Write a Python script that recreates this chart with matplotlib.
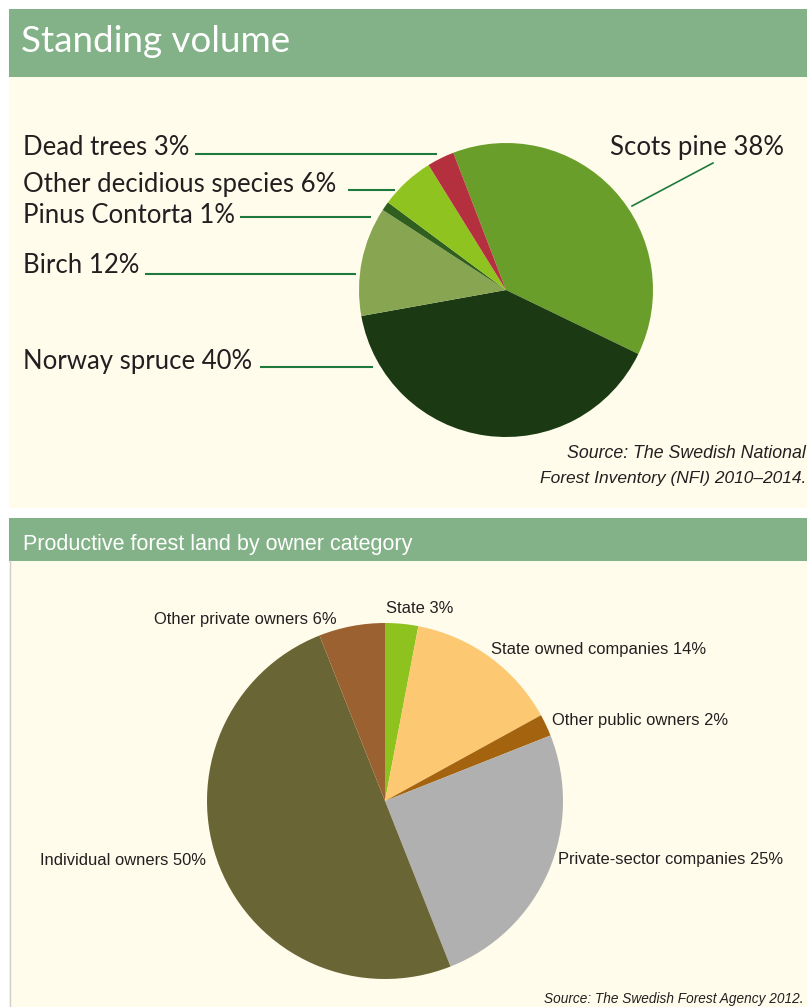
import matplotlib
matplotlib.use("Agg")
import matplotlib.pyplot as plt
from matplotlib.patches import Rectangle

# ---------------- data ----------------
species = ["Scots pine", "Norway spruce", "Birch", "Pinus Contorta",
           "Other decidious species", "Dead trees"]
species_pct = [38, 40, 12, 1, 6, 3]
species_colors = ["#6a9e2a", "#1b3a14", "#88a552", "#2f5e1e", "#8fc31f", "#b5303e"]

owners = ["State", "State owned companies", "Other public owners",
          "Private-sector companies", "Individual owners", "Other private owners"]
owners_pct = [3, 14, 2, 25, 50, 6]
owners_colors = ["#8dc21f", "#fdc872", "#a4630f", "#b0b0b0", "#6a6534", "#9c6130"]

title_top = "Standing volume"
title_bottom = "Productive forest land by owner category"
source_top = ["Source: The Swedish National", "Forest Inventory (NFI) 2010\u20132014."]
source_bottom = "Source: The Swedish Forest Agency 2012."

# ---------------- layout ----------------
W, H = 807, 1007
GREEN = "#84b288"
CREAM = "#fffcec"
LINE = "#1e7a3c"
TXT = "#231f20"
REG = ["Lato", "DejaVu Sans"]
NARROW = ["Liberation Sans", "DejaVu Sans"]

fig = plt.figure(figsize=(W / 100, H / 100), dpi=100)
fig.patch.set_facecolor("white")
bg = fig.add_axes([0, 0, 1, 1])
bg.set_xlim(0, W)
bg.set_ylim(H, 0)
bg.axis("off")

bg.add_patch(Rectangle((9, 9), W - 9, 68, color=GREEN, lw=0))
bg.add_patch(Rectangle((9, 77), W - 9, 431, color=CREAM, lw=0))
bg.add_patch(Rectangle((9, 518), W - 9, 43, color=GREEN, lw=0))
bg.add_patch(Rectangle((9, 561), W - 9, H - 561, color=CREAM, lw=0))
bg.plot([9.5, 9.5], [561, H], color="#cfcfc8", lw=1)

bg.text(21, 52, title_top, color="white", fontsize=26.5, family=REG, va="baseline")
bg.text(23, 550, title_bottom, color="white", fontsize=15.5, family=NARROW, va="baseline")


def pie_axes(cx, cy, r):
    a = fig.add_axes([(cx - r) / W, 1 - (cy + r) / H, 2 * r / W, 2 * r / H])
    a.axis("off")
    return a


# top pie
ax1 = pie_axes(506, 290, 147)
ax1.pie(species_pct, colors=species_colors, startangle=111, counterclock=False,
        radius=1, wedgeprops=dict(linewidth=0))
ax1.set_xlim(-1, 1)
ax1.set_ylim(-1, 1)

# top labels (text x, baseline y, line x0, line x1, line y)
top_lab = {
    "Dead trees": (23, 155, 195, 437, 154),
    "Other decidious species": (23, 192, 348, 395, 190),
    "Pinus Contorta": (23, 223, 240, 371, 217),
    "Birch": (23, 273, 145, 356, 274),
    "Norway spruce": (23, 369, 260, 373, 367),
}
for name, pct in zip(species, species_pct):
    label = f"{name} {pct}%"
    if name in top_lab:
        tx, ty, x0, x1, ly = top_lab[name]
        bg.text(tx, ty, label, color=TXT, fontsize=18.5, family=REG, va="baseline")
        bg.plot([x0, x1], [ly, ly], color=LINE, lw=1.5, solid_capstyle="butt")
    else:
        bg.text(610, 155, label, color=TXT, fontsize=18.5, family=REG, va="baseline")
        bg.plot([713, 632], [163, 206], color=LINE, lw=1.2)

bg.text(806, 458, source_top[0], color=TXT, fontsize=12.8, family=NARROW,
        style="italic", ha="right", va="baseline")
bg.text(806, 483, source_top[1], color=TXT, fontsize=12.5, family=NARROW,
        style="italic", ha="right", va="baseline")

# bottom pie
ax2 = pie_axes(385, 801, 178)
ax2.pie(owners_pct, colors=owners_colors, startangle=90, counterclock=False,
        radius=1, wedgeprops=dict(linewidth=0))
ax2.set_xlim(-1, 1)
ax2.set_ylim(-1, 1)

bot_lab = {
    "State": (386, 613),
    "State owned companies": (491, 654),
    "Other public owners": (552, 725),
    "Private-sector companies": (558, 864),
    "Individual owners": (40, 865),
    "Other private owners": (154, 624),
}
for name, pct in zip(owners, owners_pct):
    tx, ty = bot_lab[name]
    bg.text(tx, ty, f"{name} {pct}%", color=TXT, fontsize=11.9, family=NARROW,
            va="baseline")

bg.text(803, 1003, source_bottom, color=TXT, fontsize=9.8, family=NARROW,
        style="italic", ha="right", va="baseline")

fig.savefig("out.png", dpi=100, facecolor="white")
